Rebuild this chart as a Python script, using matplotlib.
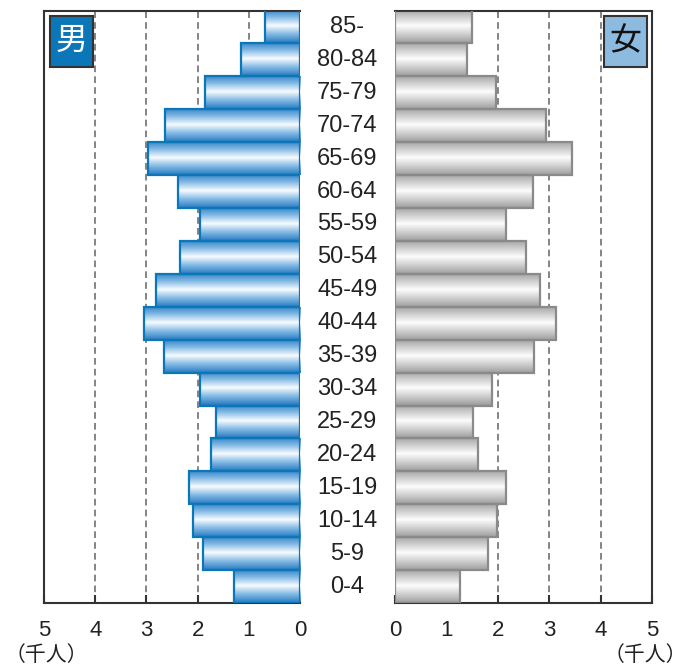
import numpy as np
import matplotlib
matplotlib.use("Agg")
import matplotlib.pyplot as plt
from matplotlib.patches import Rectangle
from matplotlib.transforms import blended_transform_factory

# Age groups from youngest (bottom) to oldest (top)
age_groups = ["0-4", "5-9", "10-14", "15-19", "20-24", "25-29", "30-34", "35-39",
              "40-44", "45-49", "50-54", "55-59", "60-64", "65-69", "70-74",
              "75-79", "80-84", "85-"]
# Population in thousands
male = [1.29, 1.90, 2.09, 2.17, 1.74, 1.64, 1.95, 2.66, 3.05, 2.81,
        2.34, 1.95, 2.38, 2.97, 2.64, 1.86, 1.15, 0.68]
female = [1.26, 1.81, 1.98, 2.16, 1.61, 1.51, 1.88, 2.70, 3.14, 2.82,
          2.54, 2.15, 2.68, 3.45, 2.93, 1.97, 1.40, 1.50]
ticks = [0, 1, 2, 3, 4, 5]
unit_label = "（千人）"

W, H = 688, 666
fig = plt.figure(figsize=(W / 100, H / 100), dpi=100)

top_px, bot_px = 10.5, 603
ax_l = fig.add_axes([44 / W, (H - bot_px) / H, (300 - 44) / W, (bot_px - top_px) / H])
ax_r = fig.add_axes([395 / W, (H - bot_px) / H, (652 - 395) / W, (bot_px - top_px) / H])


def gradient(stops):
    t = np.linspace(0, 1, 64)
    pos = [s[0] for s in stops]
    cols = np.array([s[1] for s in stops])
    rgb = np.stack([np.interp(t, pos, cols[:, i]) for i in range(3)], axis=1)
    return rgb[:, None, :]


blue_grad = gradient([(0.0, (0.25, 0.54, 0.80)), (0.2, (0.50, 0.72, 0.89)),
                      (0.47, (0.97, 0.985, 1.0)), (0.72, (0.53, 0.74, 0.90)),
                      (1.0, (0.16, 0.48, 0.76))])
gray_grad = gradient([(0.0, (0.66, 0.66, 0.66)), (0.2, (0.80, 0.80, 0.80)),
                      (0.47, (0.99, 0.99, 0.99)), (0.72, (0.82, 0.82, 0.82)),
                      (1.0, (0.62, 0.62, 0.62))])

spine_col = "#333333"

for ax, vals, grad, edge, xlim in [
    (ax_l, male, blue_grad, "#0a78b8", (5, 0)),
    (ax_r, female, gray_grad, "#8a8a8a", (0, 5)),
]:
    ax.set_xlim(*xlim)
    ax.set_ylim(-0.5, len(age_groups) - 0.5)
    for x in [1, 2, 3, 4]:
        ax.axvline(x, color="#707070", lw=1.2, dashes=(4, 2.5), zorder=0.5)
    for i, v in enumerate(vals):
        ax.imshow(grad, extent=[0, v, i - 0.5, i + 0.5], aspect="auto",
                  interpolation="bilinear", zorder=2)
    ax.barh(range(len(vals)), vals, height=1.0, facecolor="none",
            edgecolor=edge, linewidth=1.6, zorder=3)
    ax.set_xticks(ticks)
    ax.set_xticklabels([str(t) for t in ticks])
    ax.set_yticks([])
    ax.tick_params(axis="x", direction="in", length=6, width=1.5, color=spine_col,
                   pad=12.5, labelsize=16, labelcolor="#222222")
    for lab in ax.get_xticklabels():
        lab.set_fontfamily("Liberation Sans")
    for s in ax.spines.values():
        s.set_color(spine_col)
        s.set_linewidth(1.5)

ax_l.spines["right"].set_visible(False)
ax_r.spines["left"].set_visible(False)

# Age group labels in the centre gutter
trans = blended_transform_factory(fig.transFigure, ax_l.transData)
for i, g in enumerate(age_groups):
    ax_l.text(347.5 / W, i, g, transform=trans, ha="center", va="center",
              fontsize=17, family="Liberation Sans", color="#222222", clip_on=False)

# Sex badges
ax_l.add_patch(Rectangle((0.023, 0.905), 0.167, 0.0855, transform=ax_l.transAxes,
                         facecolor="#0b77b8", edgecolor=spine_col, lw=1.5, zorder=5))
ax_l.text(0.1065, 0.948, "男", transform=ax_l.transAxes, ha="center", va="center",
          fontsize=23, color="white", family="Noto Sans CJK JP", zorder=6)
ax_r.add_patch(Rectangle((0.813, 0.905), 0.167, 0.0855, transform=ax_r.transAxes,
                         facecolor="#8dbbe0", edgecolor=spine_col, lw=1.5, zorder=5))
ax_r.text(0.8965, 0.948, "女", transform=ax_r.transAxes, ha="center", va="center",
          fontsize=23, color="#111111", family="Noto Sans CJK JP", zorder=6)

# Unit labels
fig.text(46 / W, 1 - 655 / H, unit_label, ha="center", va="center", fontsize=15,
         family="Noto Sans CJK JP", color="#222222")
fig.text(645 / W, 1 - 655 / H, unit_label, ha="center", va="center", fontsize=15,
         family="Noto Sans CJK JP", color="#222222")

fig.savefig("out.png", dpi=100)
